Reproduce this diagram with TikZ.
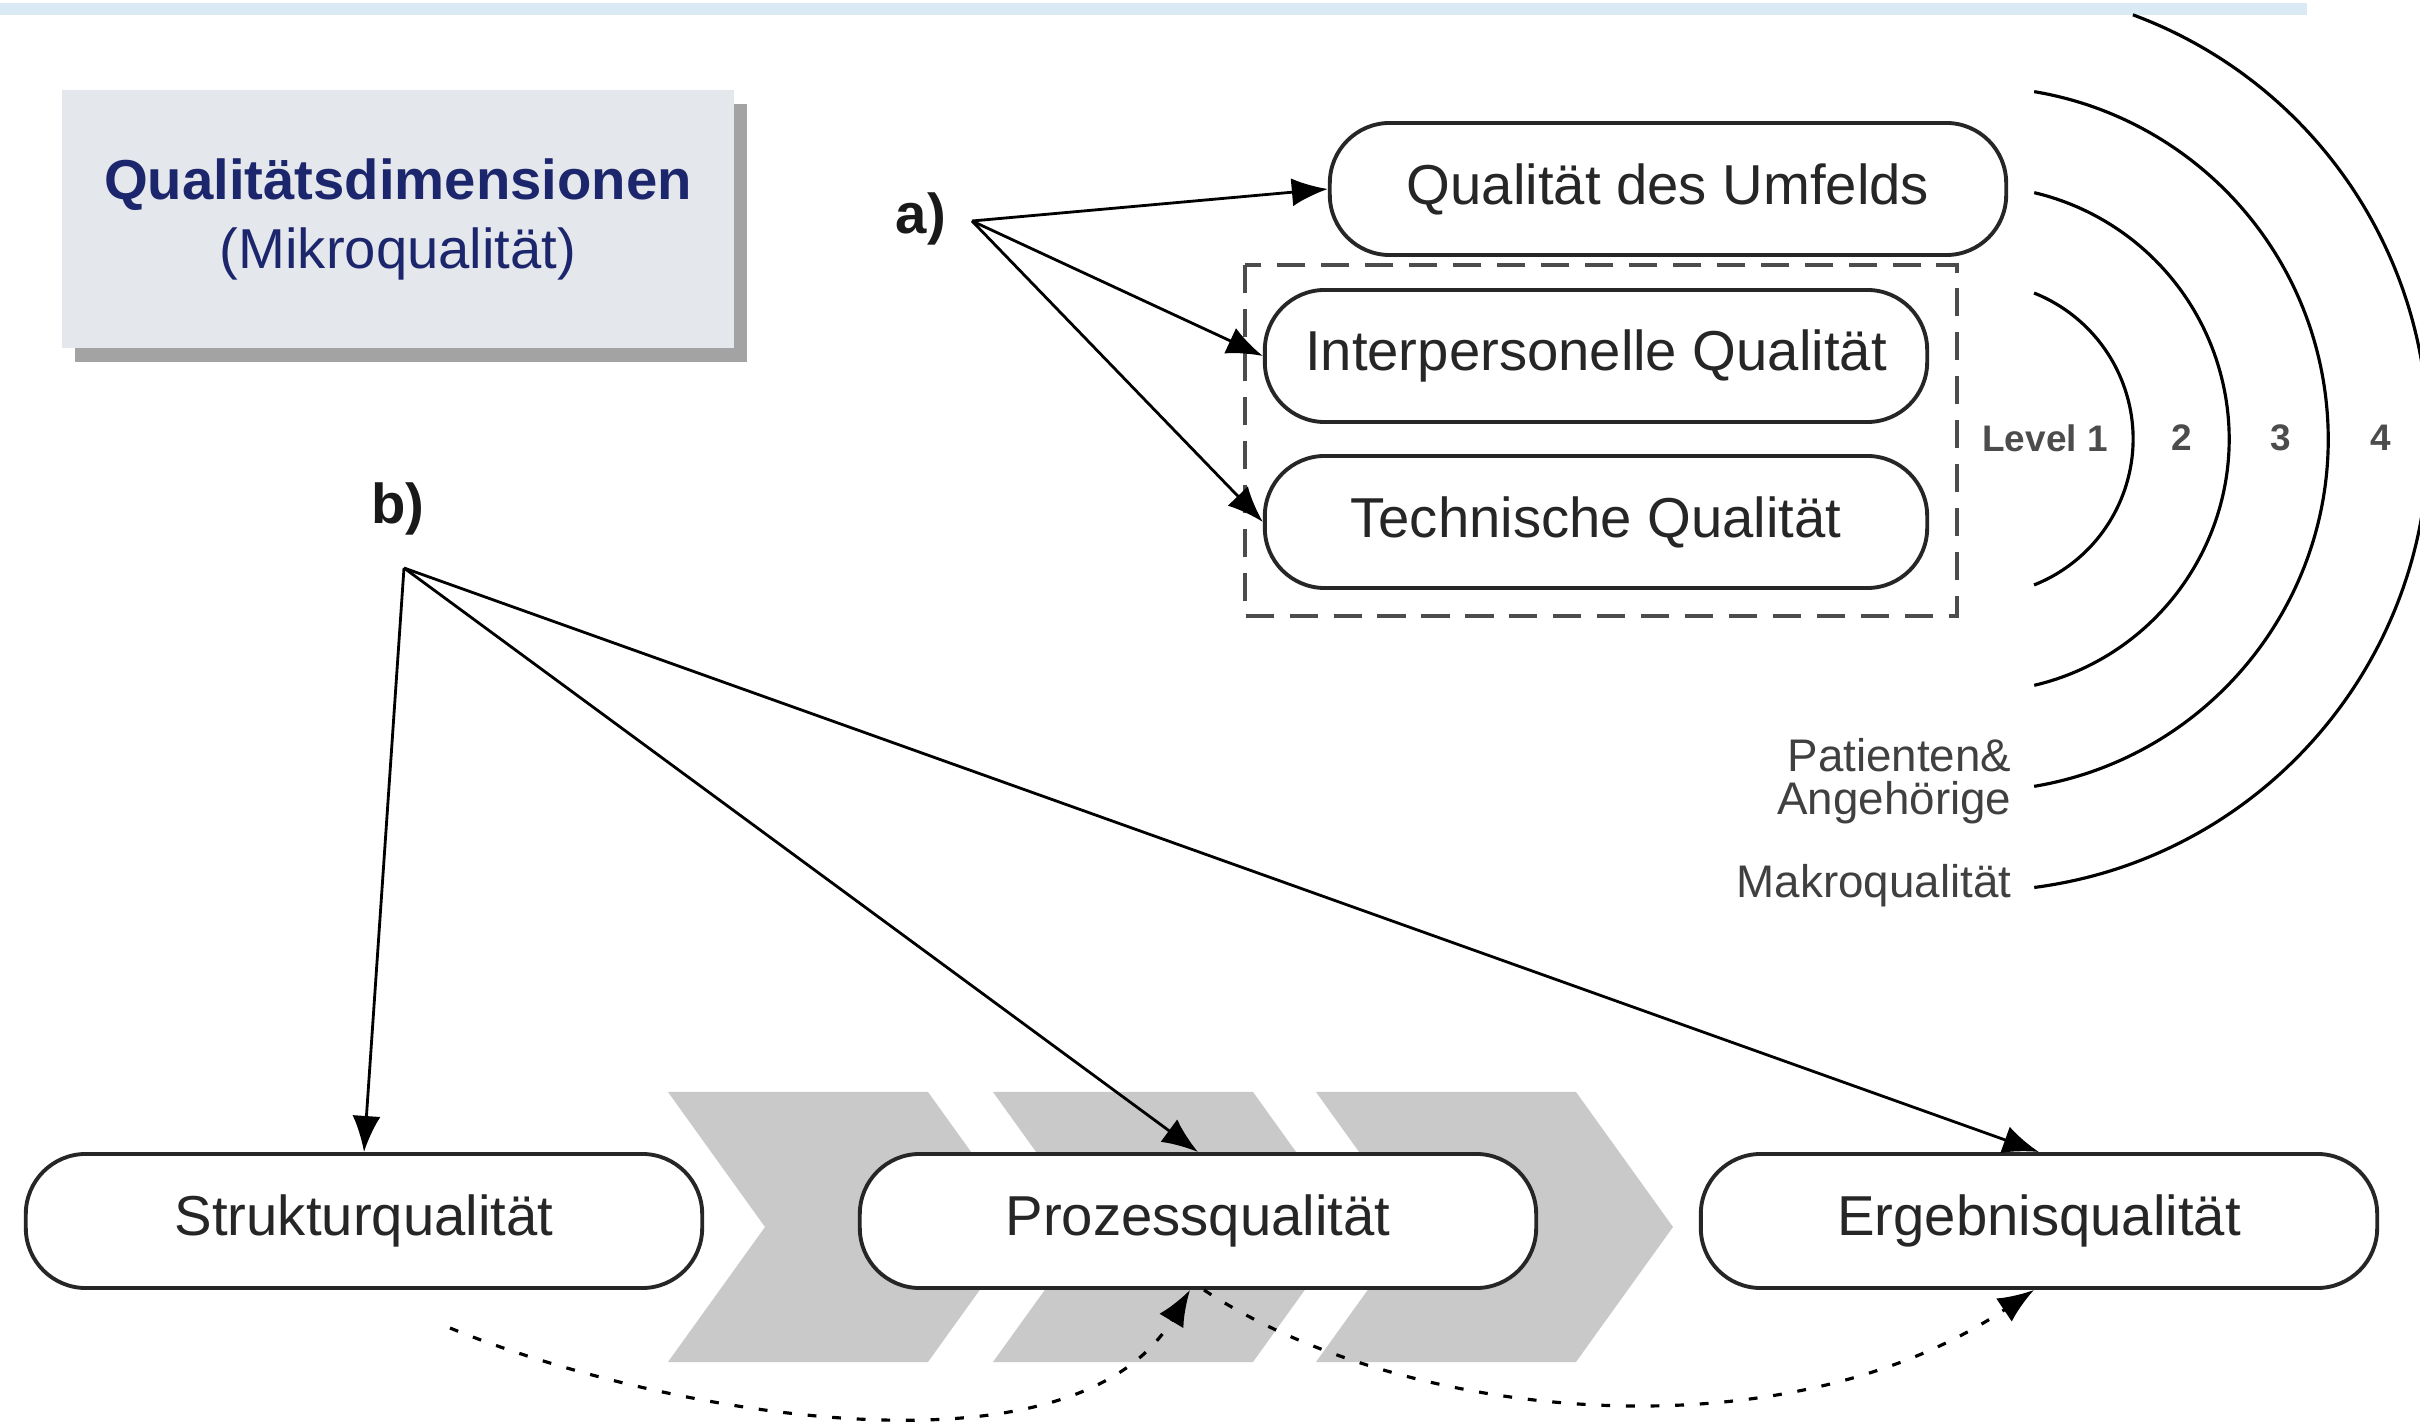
\documentclass[tikz,border=0pt]{standalone}
\usepackage{fontspec}
\setmainfont{Liberation Sans}
\usepackage{xcolor}
\usepackage{tikz}
\usetikzlibrary{arrows.meta, positioning, shadows}

\definecolor{barblue}{RGB}{218,234,245}
\definecolor{titlegray}{RGB}{228,231,236}
\definecolor{shadowgray}{RGB}{163,163,163}
\definecolor{navy}{RGB}{28,38,108}
\definecolor{chevgray}{RGB}{201,201,201}

\tikzset{
  qbox/.style={draw=black!85, line width=1.1pt, fill=white, rounded corners=0.6cm,
    minimum width=6.62cm, minimum height=1.32cm, inner sep=0pt,
    font=\fontsize{16}{19}\selectfont, text=black!85},
  titlebox/.style={fill=titlegray, minimum width=6.72cm, minimum height=2.58cm,
    align=center, text=navy, font=\fontsize{16}{19.6}\selectfont,
    drop shadow={shadow xshift=0.13cm, shadow yshift=-0.14cm, fill=shadowgray, opacity=1}},
  tag/.style={font=\bfseries\fontsize{16}{19}\selectfont, text=black!90},
  lvl/.style={font=\bfseries\fontsize{10.5}{12}\selectfont, text=black!70},
  arclabel/.style={font=\fontsize{13}{12.3}\selectfont, text=black!75, inner sep=0pt},
  pfeil/.style={line width=0.8pt, -{Latex[length=0.36cm,width=0.28cm]}},
  dotpfeil/.style={line width=0.9pt, dash pattern=on 2.5pt off 4.5pt,
    -{Latex[length=0.36cm,width=0.28cm]}},
  dashbox/.style={draw=black!70, line width=1.1pt, dash pattern=on 8pt off 4.5pt},
  ring/.style={line width=0.9pt}
}

\begin{document}
\begin{tikzpicture}[x=0.01cm, y=-0.01cm]
\useasboundingbox (0,0) rectangle (2420,1428);
\fill[white] (0,0) rectangle (2420,1428);
\fill[barblue] (0,3) rectangle (2307,15);

% title
\node[titlebox] (dim) at (398,219) {\textbf{Qualitätsdimensionen}\\(Mikroqualität)};

% chevrons behind the bottom row
\foreach \x in {668, 993, 1316}
  \fill[chevgray] (\x,1092) -- ++(260,0) -- ++(97,135) -- ++(-97,135)
    -- ++(-260,0) -- ++(97,-135) -- cycle;

% bottom row
\node[qbox, minimum width=6.76cm, minimum height=1.34cm] (struk) at (364,1221) {Strukturqualität};
\node[qbox, minimum width=6.76cm, minimum height=1.34cm] (proz) at (1198,1221) {Prozessqualität};
\node[qbox, minimum width=6.76cm, minimum height=1.34cm] (ergeb) at (2039,1221) {Ergebnisqualität};

% upper group
\node[qbox, minimum width=6.76cm] (umfeld) at (1668,189) {Qualität des Umfelds};
\node[qbox] (inter) at (1596,356) {Interpersonelle Qualität};
\node[qbox] (tech) at (1596,522) {Technische Qualität};
\draw[dashbox] ([shift={(-18,-23)}]inter.north west) rectangle ([shift={(28,26)}]tech.south east);

% levels
\coordinate (C) at (1976,439);
\foreach \r/\a in {1.57/68.3, 2.53/76.7, 3.52/80.5}
  \draw[ring] ([shift={(-\a:\r cm)}]C) arc[start angle=-\a, end angle=\a, radius=\r cm];
\draw[ring] ([shift={(-82.6:4.52cm)}]C) arc[start angle=-82.6, end angle=69.7, radius=4.52cm];

\node[lvl] (l1) at (2045,438) {Level 1};
\node[lvl] (l2) at (2182,438) {2};
\node[lvl] (l3) at (2281,438) {3};
\node[lvl] (l4) at (2381,438) {4};
\node[arclabel, anchor=east, align=right] (pat) at (2012,781) {Patienten\&\\Angehörige};
\node[arclabel, anchor=east] (makro) at (2012,886) {Makroqualität};

% a)
\node[tag] (a) at (921,219) {a)};
\coordinate (aroot) at (972,221);
\foreach \t in {umfeld, inter, tech}
  \draw[pfeil] (aroot) -- (\t.west);

% b)
\node[tag] (b) at (398,509) {b)};
\coordinate (broot) at (404,568);
\foreach \t in {struk, proz, ergeb}
  \draw[pfeil] (broot) -- (\t.north);

% dotted links
\coordinate (s1) at (450,1328);
\draw[dotpfeil] (s1) .. controls (650,1410) and (1070,1490) .. ([xshift=-0.08cm]proz.south);
\draw[dotpfeil] ([xshift=0.06cm]proz.south) .. controls (1400,1420) and (1780,1460) .. ([xshift=-0.05cm]ergeb.south);
\end{tikzpicture}
\end{document}
